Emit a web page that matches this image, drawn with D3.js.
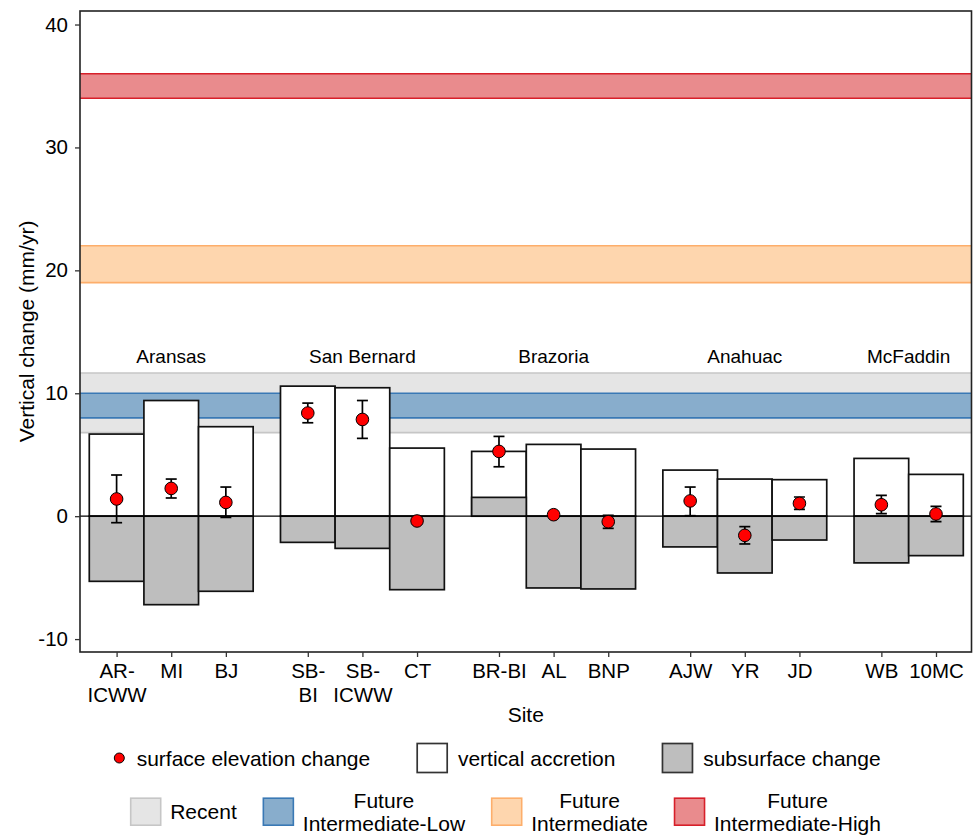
<!DOCTYPE html>
<html>
<head>
<meta charset="utf-8">
<script src="https://cdn.jsdelivr.net/npm/d3@7/dist/d3.min.js"></script>
<style>
  html, body { margin: 0; padding: 0; background: #fff; }
  svg { display: block; font-family: "Liberation Sans", Arial, sans-serif; }
</style>
</head>
<body>
<svg id="chart" width="975" height="835"></svg>
<script>
// ---- data ----
const groups = ["Aransas", "San Bernard", "Brazoria", "Anahuac", "McFaddin"];
const sites = ["AR-ICWW", "MI", "BJ", "SB-BI", "SB-ICWW", "CT", "BR-BI", "AL", "BNP", "AJW", "YR", "JD", "WB", "10MC"];
const siteGroup = [0, 0, 0, 1, 1, 1, 2, 2, 2, 3, 3, 3, 4, 4];
const tickLabels = [["AR-", "ICWW"], ["MI"], ["BJ"], ["SB-", "BI"], ["SB-", "ICWW"], ["CT"], ["BR-BI"], ["AL"], ["BNP"], ["AJW"], ["YR"], ["JD"], ["WB"], ["10MC"]];
const verticalAccretion = [6.68, 9.41, 7.28, 10.58, 10.45, 5.54, 5.27, 5.84, 5.46, 3.75, 3.02, 2.97, 4.70, 3.40];
const subsurfaceChange = [-5.30, -7.20, -6.11, -2.13, -2.62, -5.98, 1.53, -5.84, -5.92, -2.50, -4.62, -1.94, -3.80, -3.21];
const surfaceElevation = [1.40, 2.26, 1.12, 8.39, 7.87, -0.39, 5.27, 0.12, -0.45, 1.24, -1.56, 1.04, 0.93, 0.18];
const secLower = [-0.53, 1.48, -0.10, 7.60, 6.33, -0.60, 4.02, 0.02, -0.99, 0.04, -2.26, 0.55, 0.20, -0.45];
const secUpper = [3.35, 3.02, 2.37, 9.20, 9.41, -0.20, 6.49, 0.22, 0.07, 2.37, -0.85, 1.56, 1.69, 0.80];
const yTicks = [-10, 0, 10, 20, 30, 40];
const groupLabelY = 13;

// sea-level rise rate ranges (mm/yr)
const slrNames = ["Recent", "Future\nIntermediate-Low", "Future\nIntermediate", "Future\nIntermediate-High"];
const slrLow = [6.8, 8, 19, 34];
const slrHigh = [11.65, 10, 22, 36];
const slrFill = ["#e5e5e5", "#88adcc", "#fed6ae", "#e98b8d"];
const slrStroke = ["#c6c6c6", "#3a79b5", "#fdae6b", "#d7202a"];

// ---- layout ----
const svg = d3.select("#chart");
const panel = { left: 80, right: 971.5, top: 11, bottom: 652 };

// sites sit on a continuous axis with half-slot gaps between estuaries
const xPos = sites.map((s, i) => i + 1 + siteGroup[i] * 0.5);

const x = d3.scaleLinear().domain([0.33, 16.65]).range([panel.left, panel.right]);
const y = d3.scaleLinear().domain([-11.05, 41.1]).range([panel.bottom, panel.top]);

const clipId = "panel-clip";
svg.append("defs").append("clipPath").attr("id", clipId)
  .append("rect")
  .attr("x", panel.left).attr("y", panel.top)
  .attr("width", panel.right - panel.left).attr("height", panel.bottom - panel.top);

const plot = svg.append("g").attr("clip-path", `url(#${clipId})`);

// sea-level rise bands
const bands = plot.append("g");
slrNames.forEach((n, i) => {
  bands.append("rect")
    .attr("x", panel.left).attr("width", panel.right - panel.left)
    .attr("y", y(slrHigh[i])).attr("height", y(slrLow[i]) - y(slrHigh[i]))
    .attr("fill", slrFill[i]);
  [slrLow[i], slrHigh[i]].forEach(v => {
    bands.append("line")
      .attr("x1", panel.left).attr("x2", panel.right)
      .attr("y1", y(v)).attr("y2", y(v))
      .attr("stroke", slrStroke[i]).attr("stroke-width", 1.6);
  });
});

// vertical accretion (white) and subsurface change (grey) bars
const bars = plot.append("g").attr("stroke", "#111").attr("stroke-width", 1.7);
sites.forEach((s, i) => {
  const v = verticalAccretion[i];
  bars.append("rect")
    .attr("x", x(xPos[i] - 0.5)).attr("width", x(xPos[i] + 0.5) - x(xPos[i] - 0.5))
    .attr("y", y(Math.max(0, v))).attr("height", Math.abs(y(v) - y(0)))
    .attr("fill", "#ffffff");
});
sites.forEach((s, i) => {
  const v = subsurfaceChange[i];
  bars.append("rect")
    .attr("x", x(xPos[i] - 0.5)).attr("width", x(xPos[i] + 0.5) - x(xPos[i] - 0.5))
    .attr("y", y(Math.max(0, v))).attr("height", Math.abs(y(v) - y(0)))
    .attr("fill", "#bebebe");
});

// zero reference line
plot.append("line")
  .attr("x1", panel.left).attr("x2", panel.right)
  .attr("y1", y(0)).attr("y2", y(0))
  .attr("stroke", "#000").attr("stroke-width", 1.3);

// surface elevation change with error bars
const sec = plot.append("g");
const capHalf = 5.5;
sites.forEach((s, i) => {
  const cx = x(xPos[i]);
  const g = sec.append("g").attr("stroke", "#000").attr("stroke-width", 1.7);
  g.append("line").attr("x1", cx).attr("x2", cx).attr("y1", y(secLower[i])).attr("y2", y(secUpper[i]));
  g.append("line").attr("x1", cx - capHalf).attr("x2", cx + capHalf).attr("y1", y(secLower[i])).attr("y2", y(secLower[i]));
  g.append("line").attr("x1", cx - capHalf).attr("x2", cx + capHalf).attr("y1", y(secUpper[i])).attr("y2", y(secUpper[i]));
});
sites.forEach((s, i) => {
  sec.append("circle")
    .attr("cx", x(xPos[i])).attr("cy", y(surfaceElevation[i])).attr("r", 6.3)
    .attr("fill", "#ff0000").attr("stroke", "#000").attr("stroke-width", 1);
});

// estuary labels
groups.forEach((gname, gi) => {
  const xs = xPos.filter((p, i) => siteGroup[i] === gi);
  svg.append("text")
    .attr("x", x(d3.mean(xs))).attr("y", y(groupLabelY) + 6.8)
    .attr("text-anchor", "middle")
    .attr("font-size", 19).attr("fill", "#000")
    .text(gname);
});

// panel border
svg.append("rect")
  .attr("x", panel.left).attr("y", panel.top)
  .attr("width", panel.right - panel.left).attr("height", panel.bottom - panel.top)
  .attr("fill", "none").attr("stroke", "#222").attr("stroke-width", 1.6);

// y axis
const yAxis = svg.append("g")
  .attr("transform", `translate(${panel.left},0)`)
  .call(d3.axisLeft(y).tickValues(yTicks).tickSize(5).tickPadding(7).tickFormat(d => d3.format("d")(d).replace("−", "-")));
yAxis.select(".domain").remove();
yAxis.selectAll(".tick line").attr("stroke", "#333").attr("stroke-width", 1.3);
yAxis.selectAll(".tick text").attr("font-size", 20.5).attr("fill", "#000")
  .attr("font-family", "Liberation Sans, Arial, sans-serif");

// x axis
const xAxis = svg.append("g")
  .attr("transform", `translate(0,${panel.bottom})`)
  .call(d3.axisBottom(x).tickValues(xPos).tickSize(5).tickFormat(""));
xAxis.select(".domain").remove();
xAxis.selectAll(".tick line").attr("stroke", "#333").attr("stroke-width", 1.3);
xAxis.selectAll(".tick").each(function(d, i) {
  const t = d3.select(this).append("text")
    .attr("text-anchor", "middle").attr("font-size", 20.5).attr("fill", "#000")
    .attr("font-family", "Liberation Sans, Arial, sans-serif");
  tickLabels[i].forEach((line, k) => {
    t.append("tspan").attr("x", 0).attr("y", 26.3 + k * 23.4).text(line);
  });
});

// axis titles
svg.append("text")
  .attr("transform", `translate(33.5,${(panel.top + panel.bottom) / 2}) rotate(-90)`)
  .attr("text-anchor", "middle").attr("font-size", 21).attr("fill", "#000")
  .text("Vertical change (mm/yr)");
svg.append("text")
  .attr("x", (panel.left + panel.right) / 2).attr("y", 721.7)
  .attr("text-anchor", "middle").attr("font-size", 21).attr("fill", "#000")
  .text("Site");

// ---- legends ----
const legendFont = 21;
const keyW = 30, keyH = 29;

// row 1: components of elevation change
const row1 = svg.append("g");
const row1Y = 758;
let cursor = 119.3;
row1.append("circle").attr("cx", cursor).attr("cy", row1Y).attr("r", 5)
  .attr("fill", "#ff0000").attr("stroke", "#000").attr("stroke-width", 1);
let txt = row1.append("text").attr("x", cursor + 17.4).attr("y", row1Y + 7.5)
  .attr("font-size", legendFont).attr("fill", "#000").text("surface elevation change");
cursor = cursor + 17.4 + txt.node().getComputedTextLength() + 47;
[["vertical accretion", "#ffffff"], ["subsurface change", "#bebebe"]].forEach(([label, fill]) => {
  row1.append("rect").attr("x", cursor).attr("y", row1Y - keyH / 2).attr("width", keyW).attr("height", keyH)
    .attr("fill", fill).attr("stroke", "#333").attr("stroke-width", 1.7);
  const t = row1.append("text").attr("x", cursor + keyW + 10.7).attr("y", row1Y + 7.5)
    .attr("font-size", legendFont).attr("fill", "#000").text(label);
  cursor = cursor + keyW + 10.7 + t.node().getComputedTextLength() + 47;
});

// row 2: sea-level rise rates
const row2 = svg.append("g");
const row2Y = 811.7;
cursor = 130.7;
slrNames.forEach((name, i) => {
  row2.append("rect").attr("x", cursor).attr("y", row2Y - 13.5).attr("width", keyW).attr("height", 27)
    .attr("fill", slrFill[i]).attr("stroke", slrStroke[i]).attr("stroke-width", 1.6);
  const lines = name.split("\n");
  const t = row2.append("text").attr("font-size", legendFont).attr("fill", "#000");
  const tx = cursor + keyW + 9.5;
  let w;
  if (lines.length === 1) {
    t.attr("x", tx).attr("y", row2Y + 7.5).text(lines[0]);
    w = t.node().getComputedTextLength();
  } else {
    const spans = lines.map((l, k) => t.append("tspan").attr("x", tx).attr("y", row2Y - 4 + k * 23.3).text(l));
    w = d3.max(spans, s => s.node().getComputedTextLength());
    t.attr("text-anchor", "middle");
    spans.forEach(s => s.attr("x", tx + w / 2));
  }
  cursor = tx + w + 26.6;
});
</script>
</body>
</html>
